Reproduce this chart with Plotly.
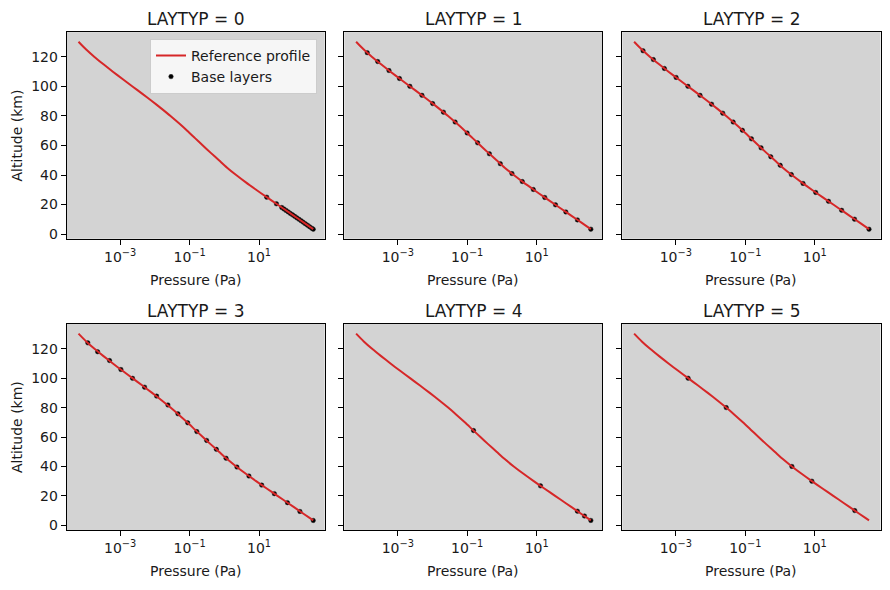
import plotly.graph_objects as go

# ---- data ----
profile_alt = [130.3, 125, 120, 115, 110, 105, 100, 95, 90, 85, 80, 75, 70, 65, 60,
               55, 50, 45, 40, 35, 30, 25, 20, 15, 10, 5, 3.3]
profile_p = [6.31e-5, 1.05e-4, 1.82e-4, 3.31e-4, 6.17e-4, 1.17e-3, 2.26e-3, 4.37e-3,
             8.32e-3, 1.55e-2, 2.82e-2, 4.95e-2, 8.51e-2, 0.143, 0.240, 0.407, 0.700,
             1.20, 2.19, 4.17, 8.22, 16.6, 33.9, 69.2, 141, 285, 363]

lay0_alt = [25, 20.5, 18, 17, 16, 15, 14, 13, 12, 11, 10, 9, 8, 7, 6, 5, 4, 3.3]
lay0_p = [16.6, 31.6, 45.1, 52.0, 60.0, 69.2, 79.8, 92.0, 106, 122, 141, 163, 187,
          215, 248, 285, 328, 363]

lay1_alt = [122.9, 116.9, 110.8, 105.4, 100.1, 94.0, 88.4, 82.6, 75.9, 68.5, 61.8,
            54.4, 47.7, 41.0, 35.6, 30.2, 24.8, 19.8, 15.0, 9.6, 3.3]
lay1_p = [1.32e-4, 2.64e-4, 5.58e-4, 1.12e-3, 2.23e-3, 4.97e-3, 1.01e-2, 2.07e-2,
          4.48e-2, 9.94e-2, 0.199, 0.435, 0.897, 1.94, 3.85, 8.00, 17.1, 34.8, 69.2,
          149, 363]

lay2_alt = [124.2, 118.2, 112.2, 106.1, 100.1, 94.0, 88.0, 81.9, 75.9, 70.3, 64.5,
            58.4, 52.4, 46.6, 40.3, 34.3, 28.2, 22.2, 16.1, 10.1, 3.3]
lay2_p = [1.14e-4, 2.26e-4, 4.69e-4, 1.02e-3, 2.23e-3, 4.97e-3, 1.07e-2, 2.24e-2,
          4.48e-2, 8.24e-2, 0.150, 0.284, 0.540, 1.01, 2.11, 4.58, 10.6, 24.8, 59.2,
          139, 363]

lay3_alt = [124.0, 118.0, 112.0, 105.9, 99.9, 93.9, 87.8, 81.8, 75.8, 69.7, 63.7,
            57.7, 51.6, 45.6, 39.6, 33.5, 27.3, 21.5, 15.4, 9.4, 3.3]
lay3_p = [1.17e-4, 2.24e-4, 4.94e-4, 1.05e-3, 2.27e-3, 5.05e-3, 1.12e-2, 2.37e-2,
          4.60e-2, 8.80e-2, 0.161, 0.309, 0.589, 1.12, 2.30, 5.10, 11.9, 27.6, 65.7,
          150, 363]

lay4_alt = [64.4, 26.8, 9.6, 6.3, 3.3]
lay4_p = [0.152, 12.9, 149, 238, 363]

lay5_alt = [100, 80, 40, 30, 10]
lay5_p = [2.26e-3, 2.82e-2, 2.19, 8.22, 141]

layers = [(lay0_p, lay0_alt), (lay1_p, lay1_alt), (lay2_p, lay2_alt),
          (lay3_p, lay3_alt), (lay4_p, lay4_alt), (lay5_p, lay5_alt)]
titles = ["LAYTYP = 0", "LAYTYP = 1", "LAYTYP = 2", "LAYTYP = 3", "LAYTYP = 4", "LAYTYP = 5"]

x_tickvals = [1e-3, 1e-1, 1e1]
x_ticktext = ["10<sup>\u22123</sup>", "10<sup>\u22121</sup>", "10<sup>1</sup>"]
y_tickvals = [0, 20, 40, 60, 80, 100, 120]

# ---- layout geometry (pixels) ----
W, H = 890, 590
col_px = [(66.7, 324.7), (344.3, 602.3), (622.3, 880.5)]
row_px = [(32.3, 240.0), (325.7, 532.7)]

FONT = "DejaVu Sans"
RED = "#d62728"
TXT = "#1a1a1a"

fig = go.Figure()
annotations = []
layout_axes = {}

for i in range(6):
    r, c = divmod(i, 3)
    n = i + 1
    xa = "x" if n == 1 else f"x{n}"
    ya = "y" if n == 1 else f"y{n}"
    xd = [col_px[c][0] / W, col_px[c][1] / W]
    yd = [1 - row_px[r][1] / H, 1 - row_px[r][0] / H]
    lp, la = layers[i]
    fig.add_trace(go.Scatter(x=lp, y=la, mode="markers", xaxis=xa, yaxis=ya,
                             marker=dict(color="black", size=4.5,
                                         line=dict(color="#222222", width=0.5)),
                             name="Base layers", showlegend=(i == 0), legendrank=2))
    fig.add_trace(go.Scatter(x=profile_p, y=profile_alt, mode="lines", xaxis=xa, yaxis=ya,
                             line=dict(color=RED, width=2, shape="spline", smoothing=0.8),
                             name="Reference profile", showlegend=(i == 0), legendrank=1))
    common = dict(showline=True, mirror=True, linecolor="black", linewidth=1,
                  ticks="outside", ticklen=5, tickwidth=1, tickcolor="black",
                  showgrid=False, zeroline=False,
                  tickfont=dict(family=FONT, size=14, color=TXT))
    layout_axes["xaxis" if n == 1 else f"xaxis{n}"] = dict(
        domain=xd, anchor=ya, type="log", range=[-4.54, 2.89],
        tickvals=x_tickvals, ticktext=x_ticktext, **common)
    layout_axes["yaxis" if n == 1 else f"yaxis{n}"] = dict(
        domain=yd, anchor=xa, range=[-3.2, 136.8], tickvals=y_tickvals,
        showticklabels=(c == 0), **common)
    xc = (xd[0] + xd[1]) / 2
    annotations.append(dict(text=titles[i], x=xc, y=yd[1], xref="paper", yref="paper",
                            xanchor="center", yanchor="bottom", yshift=1, showarrow=False,
                            font=dict(family=FONT, size=17, color=TXT)))
    annotations.append(dict(text="Pressure (Pa)", x=xc, y=1 - (row_px[r][1] + 41) / H,
                            xref="paper", yref="paper", xanchor="center", yanchor="middle",
                            showarrow=False, font=dict(family=FONT, size=14, color=TXT)))
    if c == 0:
        annotations.append(dict(text="Altitude (km)", x=17 / W,
                                y=1 - (row_px[r][0] + row_px[r][1]) / 2 / H,
                                xref="paper", yref="paper", xanchor="center", yanchor="middle",
                                textangle=-90, showarrow=False,
                                font=dict(family=FONT, size=14, color=TXT)))

fig.update_layout(
    width=W, height=H, margin=dict(l=0, r=0, t=0, b=0),
    paper_bgcolor="white", plot_bgcolor="#d3d3d3",
    font=dict(family=FONT, size=14, color=TXT),
    annotations=annotations,
    legend=dict(x=150 / W, y=1 - 39 / H, xanchor="left", yanchor="top",
                bgcolor="rgba(255,255,255,0.8)", bordercolor="#cccccc", borderwidth=1,
                font=dict(family=FONT, size=14, color=TXT), itemwidth=30,
                tracegroupgap=0),
    **layout_axes,
)

fig.write_html("out.html")
